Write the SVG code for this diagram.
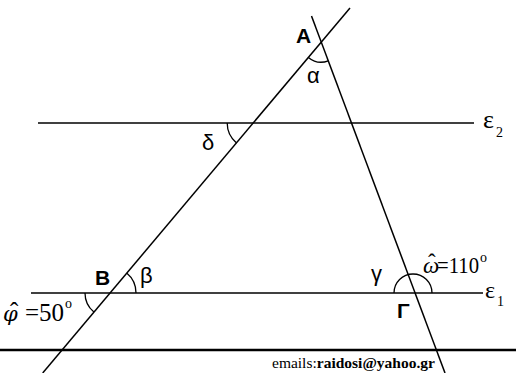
<svg xmlns="http://www.w3.org/2000/svg" width="516" height="373" viewBox="0 0 516 373">
<style>
.ln{stroke:#000;stroke-width:1.5;fill:none}
.arc{stroke:#000;stroke-width:1.3;fill:none}
.sans{font-family:"Liberation Sans",Arial,sans-serif;font-size:22px;fill:#000}
.bold{font-family:"Liberation Sans",Arial,sans-serif;font-size:21px;font-weight:bold;fill:#000}
.serif{font-family:"Liberation Serif","Times New Roman",serif;fill:#000}
.it{font-style:italic}
</style>
<rect width="516" height="373" fill="#fff"/>
<g id="lines">
  <line class="ln" x1="38" y1="123" x2="474" y2="123"/>
  <line class="ln" x1="31" y1="293" x2="483" y2="293"/>
  <line class="ln" x1="350" y1="8" x2="42.7" y2="373"/>
  <line class="ln" x1="311.5" y1="16" x2="445" y2="373"/>
  <line x1="0" y1="350" x2="516" y2="350" stroke="#000" stroke-width="2.5"/>
</g>
<g id="arcs">
  <path class="arc" d="M308.4,57.4 A20,20 0 0,0 328.3,60.8"/>
  <path class="arc" d="M227.2,123 A26,26 0 0,0 236.5,142.9"/>
  <path class="arc" d="M136,293 A26,26 0 0,0 126.7,273.1"/>
  <path class="arc" d="M85,293 A25,25 0 0,0 93.9,312.1"/>
  <path class="arc" d="M394,293 A19,19 0 0,1 432,293"/>
</g>
<g id="vertex-A"><text class="bold" x="296" y="43">A</text><text class="sans" x="307" y="83">α</text></g>
<g id="vertex-B"><text class="bold" x="95" y="285">B</text><text class="sans" x="140" y="283">β</text></g>
<g id="vertex-G"><text class="bold" x="397" y="318">Γ</text><text class="sans" x="371" y="281">γ</text></g>
<g id="label-delta"><text class="sans" x="202" y="150">δ</text></g>
<g id="label-phi">
  <text class="serif" font-size="25" y="321"><tspan class="it" x="3" font-family="'DejaVu Serif',serif" font-size="21">φ</tspan><tspan x="10" dy="-1">ˆ</tspan><tspan x="25" dy="1">=50</tspan><tspan x="65" dy="-13" font-size="14">o</tspan></text>
</g>
<g id="label-omega">
  <text class="serif" font-size="23" y="273"><tspan class="it" x="423">ω</tspan><tspan x="428" dy="-3">ˆ</tspan><tspan x="437" dy="3" textLength="42" lengthAdjust="spacingAndGlyphs">=110</tspan><tspan x="480" dy="-11" font-size="14">o</tspan></text>
</g>
<g id="label-e2"><text class="serif" font-size="26" y="128"><tspan x="483">ε</tspan><tspan x="496" dy="9" font-size="14">2</tspan></text></g>
<g id="label-e1"><text class="serif" font-size="24" y="298"><tspan x="485">ε</tspan><tspan x="497" dy="8" font-size="14">1</tspan></text></g>
<text x="272" y="368" class="serif" font-size="15.5">emails:<tspan font-weight="bold">raidosi@yahoo.gr</tspan></text>
</svg>
